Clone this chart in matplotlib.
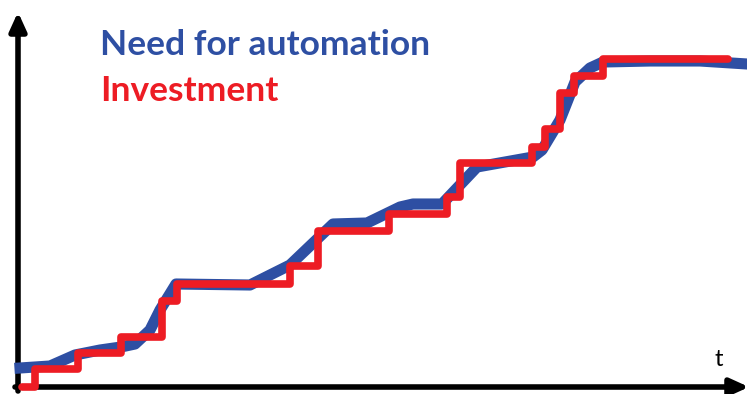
import matplotlib.pyplot as plt

# Bedarf an Automatisierung (blau), Koordinaten
need_x = [20, 50, 75, 100, 121, 135, 150, 160, 176, 250, 290, 333, 367, 400,
          413, 442, 477, 533, 542, 560, 575, 590, 603, 650, 700, 747]
need_y = [368, 366, 355, 350, 347, 344, 330, 310, 284, 285, 265, 224, 223, 207,
          204, 204, 167, 157, 150, 120, 82, 68, 62, 61, 61, 64]

# Investition (rot), Stufenfunktion
inv_x = [22, 35, 78, 121, 162, 177, 290, 318, 389, 447, 460, 532, 545, 560, 574, 603]
inv_y = [387, 369, 353, 337, 301, 284, 266, 231, 214, 197, 163, 147, 129, 93, 76, 59]
inv_end = 728

blue = '#2E4FA3'
red = '#ED1C24'

fig = plt.figure(figsize=(7.47, 3.94), dpi=100)
ax = fig.add_axes([0, 0, 1, 1])
ax.set_xlim(0, 747)
ax.set_ylim(394, 0)
ax.axis('off')

# Achsen mit Pfeilen
arrow = dict(arrowstyle='-|>,head_length=1.1,head_width=0.5',
             color='black', lw=4, shrinkA=0, shrinkB=0)
ax.annotate('', xy=(18, 12), xytext=(18, 391), arrowprops=arrow, annotation_clip=False)
ax.annotate('', xy=(749, 387), xytext=(15, 387), arrowprops=arrow, annotation_clip=False)
ax.text(719, 366, 't', fontsize=17, family='Lato', color='black', ha='center', va='baseline')

ax.plot(need_x, need_y, color=blue, lw=8, solid_joinstyle='round', zorder=3)
ax.step(inv_x + [inv_end], inv_y + [inv_y[-1]], where='post', color=red, lw=5.5,
        solid_joinstyle='round', solid_capstyle='round', zorder=4)

ax.text(100, 55, 'Need for automation', fontsize=25.5, family='Lato', weight='bold',
        color=blue, va='baseline')
ax.text(100, 101, 'Investment', fontsize=25.5, family='Lato', weight='bold',
        color=red, va='baseline')

fig.savefig('out.png', dpi=100)
